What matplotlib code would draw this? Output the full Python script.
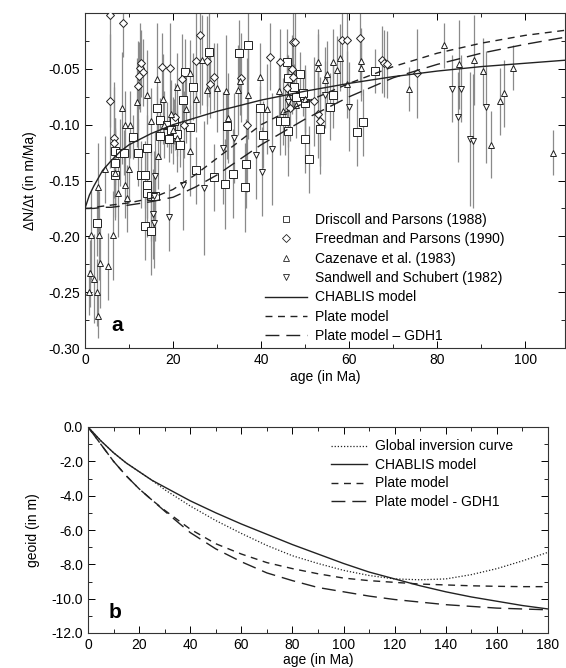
import matplotlib
matplotlib.use("Agg")
import matplotlib.pyplot as plt
from matplotlib.ticker import MultipleLocator, FormatStrFormatter
from matplotlib.lines import Line2D

plt.rcParams['font.family'] = ['Liberation Sans', 'DejaVu Sans']
plt.rcParams['font.size'] = 10

# ---- panel a: data (age in Ma, dN/dt in m/Ma, half error) ----
driscoll_age = [2.7, 6.8, 6.8, 6.8, 7.9, 8.8, 11, 12.1, 12.8, 13.6, 14, 14, 14, 15.1, 15.8,
                13.6, 15.1, 16.3, 17, 18.6, 20.1, 17, 19.5, 21, 22.6, 24.6, 22.3, 23.8, 25.2,
                28.2, 29.2, 31.9, 32.2, 33.7, 35, 36.4, 36.5, 37, 39.8, 40.5, 44.3, 45.5, 45.8,
                46.2, 46.2, 48.9, 50, 50, 50.8, 53.4, 55.6, 56.4, 61.7, 63.2, 65.9, 47, 48,
                19, 21.5, 47.5, 49.5]
driscoll_val = [-0.188, -0.124, -0.134, -0.145, -0.125, -0.125, -0.111, -0.125, -0.145, -0.145,
                -0.121, -0.154, -0.161, -0.164, -0.164, -0.191, -0.195, -0.085, -0.096, -0.100,
                -0.097, -0.110, -0.105, -0.108, -0.053, -0.066, -0.078, -0.102, -0.141, -0.035,
                -0.147, -0.153, -0.101, -0.144, -0.036, -0.156, -0.135, -0.029, -0.085, -0.109,
                -0.097, -0.097, -0.044, -0.106, -0.058, -0.055, -0.081, -0.113, -0.131, -0.104,
                -0.084, -0.073, -0.107, -0.098, -0.052, -0.070, -0.075, -0.113, -0.118, -0.066,
                -0.072]
driscoll_err = [0.03, 0.03, 0.04, 0.04, 0.03, 0.02, 0.02, 0.03, 0.03, 0.03, 0.03, 0.03, 0.04,
                0.04, 0.04, 0.03, 0.04, 0.02, 0.02, 0.02, 0.02, 0.02, 0.02, 0.02, 0.03, 0.03,
                0.02, 0.02, 0.03, 0.04, 0.03, 0.04, 0.03, 0.04, 0.03, 0.04, 0.04, 0.03, 0.02,
                0.03, 0.03, 0.03, 0.03, 0.04, 0.02, 0.02, 0.03, 0.03, 0.03, 0.04, 0.03, 0.03,
                0.03, 0.03, 0.02, 0.02, 0.02, 0.02, 0.02, 0.02, 0.02]

freedman_age = [5.7, 5.7, 8.7, 6.5, 6.5, 12.5, 12.8, 13.2, 12.2, 12, 17.5, 19.4, 22, 25.3, 26.1,
                27.6, 28.4, 29.4, 35.5, 36.7, 42, 47.3, 47.7, 44.3, 47, 47.3, 45.8, 51.9, 53,
                53.4, 58.4, 59.4, 62.4, 67.4, 68, 68.5, 75.4, 22.5, 20.5, 46.5]
freedman_val = [-0.002, -0.079, -0.009, -0.112, -0.116, -0.049, -0.045, -0.053, -0.056, -0.065,
                -0.048, -0.049, -0.059, -0.043, -0.020, -0.043, -0.064, -0.057, -0.058, -0.100,
                -0.039, -0.026, -0.026, -0.044, -0.050, -0.057, -0.067, -0.079, -0.090, -0.097,
                -0.024, -0.024, -0.022, -0.042, -0.045, -0.046, -0.054, -0.100, -0.093, -0.085]
freedman_err = [0.10, 0.06, 0.03, 0.05, 0.05, 0.04, 0.03, 0.03, 0.03, 0.04, 0.03, 0.04, 0.04,
                0.05, 0.07, 0.04, 0.03, 0.03, 0.04, 0.06, 0.03, 0.03, 0.03, 0.03, 0.03, 0.03,
                0.03, 0.04, 0.04, 0.04, 0.04, 0.04, 0.04, 0.03, 0.03, 0.03, 0.04, 0.03, 0.03,
                0.03]

cazenave_age = [0.8, 2.7, 3, 1.1, 2.1, 3.4, 5.3, 1.3, 3.2, 6.4, 3, 4.5, 6.8, 7.6, 9.5, 9.9, 9.1,
                8.3, 9.1, 10.2, 11.7, 14, 16.3, 15.1, 16.6, 17.7, 20.8, 23, 23.8, 25.3, 26.5,
                27.6, 23.8, 30, 32, 32.4, 34.8, 35.2, 37, 39.8, 41.3, 53, 53, 54.9, 54.5, 56.4,
                57.2, 57.9, 62.7, 62.7, 59.5, 73.5, 81.5, 84.9, 88.3, 90.3, 94.3, 95.2, 92.3,
                97.1, 106.3, 18, 20, 44, 46, 48, 50, 19.5, 21, 45]
cazenave_val = [-0.250, -0.250, -0.271, -0.233, -0.238, -0.224, -0.227, -0.199, -0.199, -0.199,
                -0.156, -0.140, -0.143, -0.161, -0.166, -0.140, -0.154, -0.085, -0.100, -0.100,
                -0.080, -0.073, -0.059, -0.097, -0.128, -0.077, -0.066, -0.086, -0.054, -0.077,
                -0.042, -0.069, -0.124, -0.067, -0.070, -0.094, -0.069, -0.061, -0.073, -0.057,
                -0.086, -0.044, -0.049, -0.055, -0.060, -0.044, -0.051, -0.040, -0.043, -0.049,
                -0.064, -0.068, -0.029, -0.046, -0.042, -0.052, -0.079, -0.072, -0.118, -0.049,
                -0.125, -0.100, -0.105, -0.070, -0.075, -0.082, -0.077, -0.090, -0.112, -0.088]
cazenave_err = [0.02, 0.03, 0.02, 0.03, 0.04, 0.04, 0.03, 0.04, 0.04, 0.04, 0.04, 0.03, 0.04,
                0.04, 0.03, 0.03, 0.03, 0.05, 0.03, 0.03, 0.04, 0.04, 0.05, 0.03, 0.03, 0.04,
                0.03, 0.03, 0.03, 0.03, 0.04, 0.03, 0.04, 0.04, 0.05, 0.04, 0.04, 0.03, 0.04,
                0.03, 0.04, 0.03, 0.03, 0.03, 0.03, 0.03, 0.03, 0.03, 0.03, 0.03, 0.03, 0.02,
                0.02, 0.04, 0.04, 0.03, 0.03, 0.03, 0.03, 0.02, 0.02, 0.03, 0.03, 0.03, 0.03,
                0.03, 0.03, 0.03, 0.03, 0.03]

sandwell_age = [15.9, 15.6, 15.5, 15.7, 19.1, 22.2, 27, 31.4, 33.8, 38.9, 40.2, 42.4, 54.5, 60,
                83.3, 85.3, 84.8, 87.5, 88.1, 91.1, 46]
sandwell_val = [-0.146, -0.164, -0.180, -0.188, -0.183, -0.154, -0.157, -0.121, -0.112, -0.127,
                -0.142, -0.122, -0.073, -0.084, -0.068, -0.068, -0.093, -0.113, -0.115, -0.084,
                -0.080]
sandwell_err = [0.04, 0.04, 0.04, 0.04, 0.03, 0.04, 0.06, 0.05, 0.04, 0.04, 0.04, 0.05, 0.03,
                0.04, 0.03, 0.03, 0.04, 0.06, 0.06, 0.05, 0.04]

# model curves, panel a
curve_a_age = [0, 1, 2, 4, 6, 8, 10, 15, 20, 25, 30, 40, 50, 60, 70, 80, 90, 100, 110]
chablis_a = [-0.175, -0.163, -0.155, -0.141, -0.132, -0.124, -0.118, -0.108, -0.100, -0.094,
             -0.088, -0.078, -0.070, -0.063, -0.057, -0.052, -0.048, -0.045, -0.042]
plate_a = [-0.175, -0.175, -0.174, -0.173, -0.172, -0.171, -0.170, -0.166, -0.158, -0.145,
           -0.130, -0.100, -0.080, -0.063, -0.048, -0.036, -0.027, -0.020, -0.015]
gdh1_a = [-0.175, -0.175, -0.175, -0.174, -0.174, -0.173, -0.172, -0.169, -0.165, -0.156,
          -0.145, -0.118, -0.095, -0.075, -0.058, -0.046, -0.036, -0.028, -0.021]

# ---- panel b: geoid curves ----
curve_b_age = [0, 5, 10, 15, 20, 25, 30, 40, 50, 60, 70, 80, 90, 100, 110, 120, 130, 140, 150,
               160, 170, 180]
inversion_b = [0, -0.8, -1.5, -2.1, -2.6, -3.1, -3.65, -4.6, -5.45, -6.2, -6.9, -7.5, -7.95,
               -8.35, -8.65, -8.85, -8.9, -8.85, -8.6, -8.25, -7.8, -7.3]
chablis_b = [0, -0.8, -1.5, -2.1, -2.6, -3.1, -3.5, -4.3, -5.0, -5.65, -6.25, -6.85, -7.4,
             -7.95, -8.45, -8.85, -9.25, -9.6, -9.9, -10.15, -10.4, -10.6]
plate_b = [0, -1.0, -2.0, -2.85, -3.6, -4.25, -4.85, -5.95, -6.8, -7.4, -7.9, -8.25, -8.55,
           -8.8, -8.95, -9.05, -9.15, -9.2, -9.25, -9.28, -9.3, -9.3]
gdh1_b = [0, -1.0, -2.0, -2.85, -3.6, -4.25, -4.9, -6.15, -7.1, -7.85, -8.5, -8.95, -9.35,
          -9.6, -9.85, -10.05, -10.2, -10.35, -10.45, -10.55, -10.6, -10.65]

fig = plt.figure(figsize=(5.66, 6.68), dpi=100)
ax1 = fig.add_axes([85/566, 1 - 348/668, 480/566, 335/668])
ax2 = fig.add_axes([88/566, 1 - 633/668, 460/566, 206/668])

# panel a scatter with error bars
series = [
    (driscoll_age, driscoll_val, driscoll_err, 's', 'Driscoll and Parsons (1988)'),
    (freedman_age, freedman_val, freedman_err, 'D', 'Freedman and Parsons (1990)'),
    (cazenave_age, cazenave_val, cazenave_err, '^', 'Cazenave et al. (1983)'),
    (sandwell_age, sandwell_val, sandwell_err, 'v', 'Sandwell and Schubert (1982)'),
]
msizes = {'s': 5.5, 'D': 4.5, '^': 5, 'v': 5}
handles = []
for age, val, err, mk, lab in series:
    ax1.errorbar(age, val, yerr=err, fmt='none', ecolor='#8a8a8a', elinewidth=0.9, zorder=1)
    ax1.plot(age, val, linestyle='none', marker=mk, markersize=msizes[mk],
             markerfacecolor='white', markeredgecolor='#222222', markeredgewidth=0.7, zorder=3)
    handles.append(Line2D([], [], linestyle='none', marker=mk, markersize=4,
                          markerfacecolor='white', markeredgecolor='#222222',
                          markeredgewidth=0.6, label=lab))

l1, = ax1.plot(curve_a_age, chablis_a, color='#222222', lw=1.0, zorder=4, label='CHABLIS model')
l2, = ax1.plot(curve_a_age, plate_a, color='#222222', lw=1.0, dashes=(5, 4), zorder=4,
               label='Plate model')
l3, = ax1.plot(curve_a_age, gdh1_a, color='#222222', lw=1.0, dashes=(10, 5), zorder=4,
               label='Plate model \u2013 GDH1')
handles += [l1, l2, l3]

ax1.set_xlim(0, 109)
ax1.set_ylim(-0.30, 0.0)
ax1.set_yticks([-0.30, -0.25, -0.20, -0.15, -0.10, -0.05])
ax1.yaxis.set_major_formatter(FormatStrFormatter('%.2f'))
ax1.yaxis.set_minor_locator(MultipleLocator(0.025))
ax1.xaxis.set_major_locator(MultipleLocator(20))
ax1.xaxis.set_minor_locator(MultipleLocator(10))
ax1.set_xlabel('age (in Ma)', labelpad=2)
ax1.set_ylabel('\u0394N/\u0394t (in m/Ma)', labelpad=8)
ax1.text(0.055, 0.066, 'a', transform=ax1.transAxes, fontsize=15, fontweight='bold',
         va='center')
leg1 = ax1.legend(handles=handles, loc='lower left', bbox_to_anchor=(0.355, -0.015),
                  frameon=False, handlelength=3.0, handletextpad=0.6, labelspacing=0.39,
                  borderpad=0.2, fontsize=10)

# panel b curves
ax2.plot(curve_b_age, inversion_b, color='#222222', lw=0.9, linestyle=(0, (1, 1.5)),
         label='Global inversion curve')
ax2.plot(curve_b_age, chablis_b, color='#222222', lw=1.0, label='CHABLIS model')
ax2.plot(curve_b_age, plate_b, color='#222222', lw=1.0, dashes=(5, 4), label='Plate model')
ax2.plot(curve_b_age, gdh1_b, color='#222222', lw=1.0, dashes=(10, 5),
         label='Plate model - GDH1')
ax2.set_xlim(0, 180)
ax2.set_ylim(-12, 0)
ax2.xaxis.set_major_locator(MultipleLocator(20))
ax2.xaxis.set_minor_locator(MultipleLocator(10))
ax2.yaxis.set_major_locator(MultipleLocator(2))
ax2.yaxis.set_minor_locator(MultipleLocator(1))
ax2.yaxis.set_major_formatter(FormatStrFormatter('%.1f'))
ax2.set_xlabel('age (in Ma)', labelpad=1)
ax2.set_ylabel('geoid (in m)', labelpad=8)
ax2.text(0.045, 0.10, 'b', transform=ax2.transAxes, fontsize=15, fontweight='bold',
         va='center')
ax2.legend(loc='upper left', bbox_to_anchor=(0.5, 1.0), frameon=False, handlelength=2.6,
           handletextpad=0.6, labelspacing=0.32, borderpad=0.4, fontsize=10)

for ax in (ax1, ax2):
    ax.tick_params(which='both', direction='in', top=True, right=True, labelsize=10)
    ax.tick_params(which='major', length=5, width=0.7)
    ax.tick_params(which='minor', length=3, width=0.6)
    for s in ax.spines.values():
        s.set_linewidth(0.8)
        s.set_color('#333333')

fig.savefig('out.png', dpi=100)
